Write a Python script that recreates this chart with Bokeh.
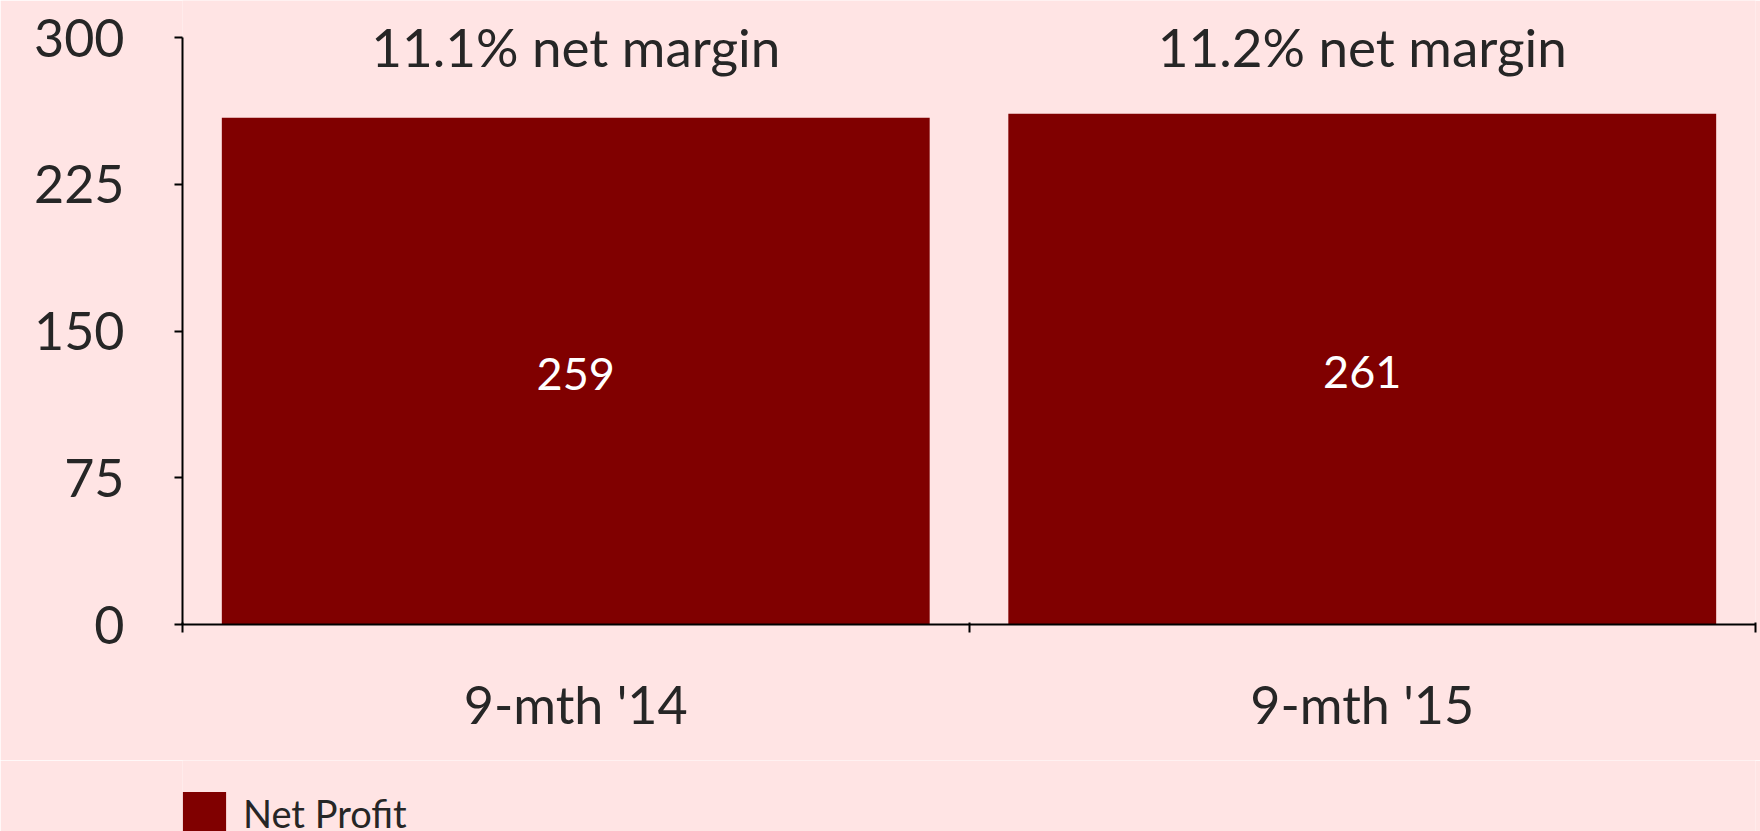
from bokeh.plotting import figure
from bokeh.models import (ColumnDataSource, Range1d, FixedTicker, Legend, LegendItem)
from bokeh.layouts import column
from bokeh.core.properties import value
from bokeh.embed import file_html
from bokeh.resources import INLINE

# ---- data ----
categories = ["9-mth '14", "9-mth '15"]
net_profit = [259, 261]
margin_labels = ["11.1% net margin", "11.2% net margin"]
y_ticks = [0, 75, 150, 225, 300]
series_name = "Net Profit"

BG = "#FFE4E4"
BAR = "#800000"
TXT = "#262626"
FONT = "Lato"

Y_MAX = 300
xs = [i + 0.5 for i in range(len(categories))]
src = ColumnDataSource(dict(
    x=xs,
    top=net_profit,
    mid=[v / 2 for v in net_profit],
    lab=[str(v) for v in net_profit],
    mlab=margin_labels,
    my=[295.5] * len(categories),
))

H1 = 760
FRAME_BOTTOM = 624   # pixel row of value 0
PX_PER_UNIT = 587 / Y_MAX
p = figure(width=1760, height=H1, output_backend="svg", toolbar_location=None,
           x_range=Range1d(0, len(categories)),
           y_range=Range1d(0, FRAME_BOTTOM / PX_PER_UNIT),
           min_border_left=182, min_border_right=5, min_border_top=0,
           min_border_bottom=H1 - FRAME_BOTTOM)
p.background_fill_color = BG
p.border_fill_color = BG
p.outline_line_color = None
p.xgrid.visible = False
p.ygrid.visible = False

bars = p.vbar(x="x", top="top", bottom=0, width=0.9, source=src,
              fill_color=BAR, line_color=None)

p.text(x="x", y="mid", text="lab", source=src, text_color="white",
       text_font=value(FONT), text_font_size="45px", text_align="center",
       text_baseline="alphabetic", y_offset=3)

p.text(x="x", y="my", text="mlab", source=src, text_color=TXT,
       text_font=value(FONT), text_font_size="53px", text_align="center",
       text_baseline="alphabetic")

# y axis
ya = p.yaxis[0]
ya.ticker = FixedTicker(ticks=y_ticks, minor_ticks=[])
ya.bounds = (0, Y_MAX)
ya.axis_line_color = "black"
ya.axis_line_width = 2
ya.major_tick_line_color = "black"
ya.major_tick_line_width = 2
ya.major_tick_out = 8
ya.major_tick_in = 0
ya.major_label_standoff = 50
ya.major_label_text_font = FONT
ya.major_label_text_font_size = "52px"
ya.major_label_text_color = TXT

# x axis
xa = p.xaxis[0]
xa.ticker = FixedTicker(ticks=xs, minor_ticks=list(range(len(categories) + 1)))
xa.major_label_overrides = {x: c for x, c in zip(xs, categories)}
xa.axis_line_color = "black"
xa.axis_line_width = 2
xa.major_tick_line_color = None
xa.major_tick_out = 0
xa.major_tick_in = 0
xa.minor_tick_line_color = "black"
xa.minor_tick_line_width = 2
xa.minor_tick_out = 8
xa.minor_tick_in = 2
xa.major_label_standoff = 40
xa.major_label_text_font = FONT
xa.major_label_text_font_size = "52px"
xa.major_label_text_color = TXT

# ---- legend strip (second figure directly below) ----
H2 = 831 - H1
p2 = figure(width=1760, height=H2, output_backend="svg", toolbar_location=None,
            x_range=Range1d(10, 11), y_range=Range1d(0, 1),
            x_axis_type=None, y_axis_type=None,
            min_border_left=0, min_border_right=0,
            min_border_top=0, min_border_bottom=0)
p2.background_fill_color = BG
p2.border_fill_color = BG
p2.outline_line_color = None
p2.xgrid.visible = False
p2.ygrid.visible = False
swatch = p2.vbar(x="x", top="top", width=0.9, source=src,
                 fill_color=BAR, line_color=None, visible=False)

legend = Legend(items=[LegendItem(label=series_name, renderers=[swatch])],
                location=(-5, -9),
                glyph_width=54, glyph_height=54, label_standoff=12,
                padding=0, margin=0, spacing=0,
                border_line_color=None, background_fill_alpha=0,
                inactive_fill_alpha=0,
                label_text_font=FONT, label_text_font_size="38px",
                label_text_color=TXT)
p2.add_layout(legend, "center")

layout = column(p, p2, spacing=0)
open("out.html", "w").write(file_html(layout, INLINE))
